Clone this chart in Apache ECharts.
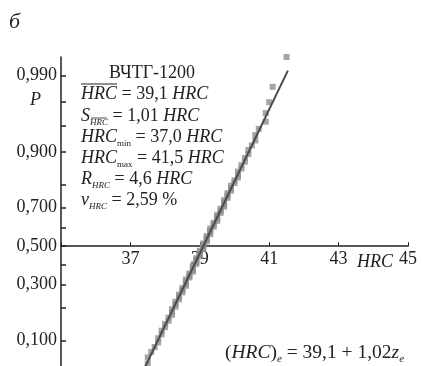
<!DOCTYPE html>
<html>
<head>
<meta charset="utf-8">
<script src="https://cdn.jsdelivr.net/npm/echarts@6/dist/echarts.min.js"></script>
<style>
html,body{margin:0;padding:0;background:#fff;}
#c{width:423px;height:366px;}
</style>
</head>
<body>
<div id="c"></div>
<script>
// ---- data ----
var hrcValues = [
 37.0,37.0,37.1,37.2,37.3,37.5,37.5,37.6,37.7,37.8,
 37.8,37.9,37.9,38.0,38.0,38.1,38.1,38.2,38.2,38.2,
 38.3,38.3,38.3,38.4,38.4,38.4,38.5,38.5,38.5,38.6,
 38.6,38.6,38.6,38.7,38.7,38.7,38.8,38.8,38.8,38.8,
 38.9,38.9,38.9,38.9,39.0,39.0,39.0,39.0,39.1,39.1,
 39.1,39.1,39.2,39.2,39.2,39.2,39.3,39.3,39.3,39.3,
 39.4,39.4,39.4,39.5,39.5,39.5,39.5,39.6,39.6,39.6,
 39.7,39.7,39.7,39.7,39.8,39.8,39.8,39.9,39.9,39.9,
 40.0,40.0,40.1,40.1,40.1,40.2,40.2,40.3,40.3,40.4,
 40.4,40.5,40.6,40.6,40.7,40.9,40.9,41.0,41.1,41.5
];
var fitIntercept = 39.1;   // (HRC)e = 39,1 + 1,02 z
var fitSlope = 1.02;
var fitZRange = [-1.645, 2.39];
var probLabelTicks = [0.100, 0.300, 0.500, 0.700, 0.900, 0.990];
var probMinorTicks = [0.1,0.2,0.3,0.4,0.5,0.6,0.7,0.8,0.9,0.95,0.975,0.99];
var probRange = [0.05, 0.995];
var xTicks = {min: 35, max: 45, interval: 2};

// inverse standard normal (Acklam)
function normInv(p){
  var a=[-3.969683028665376e+01,2.209460984245205e+02,-2.759285104469687e+02,1.383577518672690e+02,-3.066479806614716e+01,2.506628277459239e+00];
  var b=[-5.447609879822406e+01,1.615858368580409e+02,-1.556989798598866e+02,6.680131188771972e+01,-1.328068155288572e+01];
  var c=[-7.784894002430293e-03,-3.223964580411365e-01,-2.400758277161838e+00,-2.549732539343734e+00,4.374664141464968e+00,2.938163982698783e+00];
  var d=[7.784695709041462e-03,3.224671290700398e-01,2.445134137142996e+00,3.754408661907416e+00];
  var pl=0.02425, q, r;
  if(p<pl){q=Math.sqrt(-2*Math.log(p));return (((((c[0]*q+c[1])*q+c[2])*q+c[3])*q+c[4])*q+c[5])/((((d[0]*q+d[1])*q+d[2])*q+d[3])*q+1);}
  if(p>1-pl){q=Math.sqrt(-2*Math.log(1-p));return -(((((c[0]*q+c[1])*q+c[2])*q+c[3])*q+c[4])*q+c[5])/((((d[0]*q+d[1])*q+d[2])*q+d[3])*q+1);}
  q=p-0.5;r=q*q;
  return (((((a[0]*r+a[1])*r+a[2])*r+a[3])*r+a[4])*r+a[5])*q/(((((b[0]*r+b[1])*r+b[2])*r+b[3])*r+b[4])*r+1);
}
function normCdf(z){
  var t=1/(1+0.2316419*Math.abs(z));
  var dd=0.3989423*Math.exp(-z*z/2);
  var p=dd*t*(0.3193815+t*(-0.3565638+t*(1.781478+t*(-1.821256+t*1.330274))));
  return z>0?1-p:p;
}

var n = hrcValues.length;
var pts = hrcValues.map(function(v,i){ return [v, normInv((i+0.5)/n)]; });
var fitLine = fitZRange.map(function(z){ return [fitIntercept + fitSlope*z, z]; });

var FONT = "'Liberation Serif','DejaVu Serif',serif";
var chart = echarts.init(document.getElementById('c'), null, {renderer:'canvas'});

var GRID = {left:61, right:15, top:57, height:310};
var yMin = normInv(probRange[0]), yMax = normInv(probRange[1]);
// x axis sits on the P = 0,5 (z = 0) line
var xAxisOffset = -GRID.height * (0 - yMin) / (yMax - yMin);

function rt(x, y, text, fs, ss){
  fs = fs || 18; ss = ss || 9;
  return {type:'text', x:x, y:y, style: {
    text: text, fontFamily: FONT, fontSize: fs, fill:'#222', verticalAlign:'middle',
    rich: {
      i:{fontFamily:FONT,fontSize:fs,fontStyle:'italic',fill:'#222',lineHeight:fs+4},
      n:{fontFamily:FONT,fontSize:fs,fill:'#222',lineHeight:fs+4},
      s:{fontFamily:FONT,fontSize:ss,fontStyle:'italic',fill:'#222',lineHeight:ss+1,verticalAlign:'bottom'},
      su:{fontFamily:FONT,fontSize:ss,fill:'#222',lineHeight:ss+1,verticalAlign:'bottom'}
    }
  }};
}

chart.setOption({
  animation:false,
  grid:{left:GRID.left, right:GRID.right, top:GRID.top, height:GRID.height, containLabel:false, outerBoundsMode:'none'},
  xAxis:{
    type:'value', min:xTicks.min, max:xTicks.max, interval:xTicks.interval,
    position:'bottom', offset:xAxisOffset,
    axisLine:{onZero:false, lineStyle:{color:'#222', width:1.5}},
    axisTick:{show:true, inside:true, length:4, lineStyle:{color:'#222'}},
    axisLabel:{fontFamily:FONT, fontSize:18, color:'#222', margin:4,
      formatter:function(v){ return v===xTicks.min ? '' : String(v); }},
    splitLine:{show:false}
  },
  yAxis:{
    type:'value', min:yMin, max:yMax,
    axisLine:{onZero:false, lineStyle:{color:'#222', width:1.5}},
    axisTick:{show:true, inside:true, length:5, lineStyle:{color:'#222', width:1.5},
      customValues: probMinorTicks.map(normInv)},
    axisLabel:{fontFamily:FONT, fontSize:18, color:'#222', margin:4,
      customValues: probLabelTicks.map(normInv),
      formatter:function(v){ return normCdf(v).toFixed(3).replace('.',','); }},
    splitLine:{show:false}
  },
  series:[
    {type:'scatter', data:pts, symbol:'rect', symbolSize:6, clip:true,
     itemStyle:{color:'#8f8f8f'}, z:2},
    {type:'line', data:fitLine, showSymbol:false, symbol:'none',
     lineStyle:{color:'#4a4a4a', width:2}, z:3}
  ],
  graphic:[
    {type:'text', x:9, y:22, style:{text:'б', fontFamily:FONT, fontSize:22, fontStyle:'italic', fill:'#222', verticalAlign:'middle'}},
    {type:'text', x:30, y:100, style:{text:'P', fontFamily:FONT, fontSize:18, fontStyle:'italic', fill:'#222', verticalAlign:'middle'}},
    {type:'text', x:152, y:73, style:{text:'ВЧТГ-1200', fontFamily:FONT, fontSize:18, fill:'#222', align:'center', verticalAlign:'middle'}},
    rt(81, 94, '{i|HRC}{n| = 39,1 }{i|HRC}'),
    {type:'line', shape:{x1:81, y1:84, x2:117, y2:84}, style:{stroke:'#222', lineWidth:1}},
    rt(81, 116, '{i|S}{s|HRC}{n| = 1,01 }{i|HRC}'),
    {type:'line', shape:{x1:91, y1:118, x2:107, y2:118}, style:{stroke:'#222', lineWidth:0.8}},
    rt(81, 137, '{i|HRC}{su|min}{n| = 37,0 }{i|HRC}'),
    rt(81, 158, '{i|HRC}{su|max}{n| = 41,5 }{i|HRC}'),
    rt(81, 179, '{i|R}{s|HRC}{n| = 4,6 }{i|HRC}'),
    rt(81, 200, '{i|v}{s|HRC}{n| = 2,59 %}'),
    {type:'text', x:357, y:262, style:{text:'HRC', fontFamily:FONT, fontSize:18, fontStyle:'italic', fill:'#222', verticalAlign:'middle'}},
    rt(225, 353, '{n|(}{i|HRC}{n|)}{s|е}{n| = 39,1 + 1,02}{i|z}{s|е}', 19.5, 11)
  ]
});
</script>
</body>
</html>
